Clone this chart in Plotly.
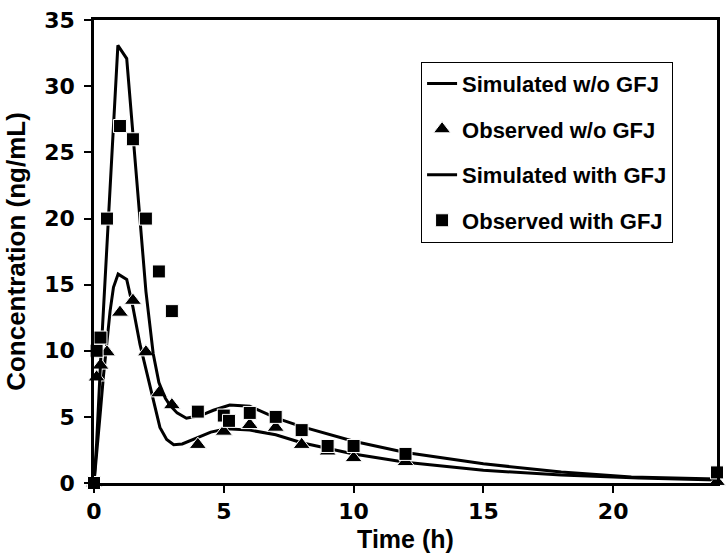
import plotly.graph_objects as go

# Simulated profiles
sim_t_wo = [0, 0.1, 0.25, 0.36, 0.5, 0.62, 0.75, 0.93, 1.26, 1.5, 1.77, 2.0, 2.15, 2.35, 2.54, 2.8, 3.07, 3.4, 3.95, 4.5, 5.1, 6.0, 7.0, 8.0, 10.0, 12.0, 15.0, 18.0, 21.0, 24.0]
sim_c_wo = [0, 2.0, 5.5, 8.0, 10.8, 13.0, 14.8, 15.8, 15.4, 13.3, 10.5, 8.6, 7.3, 5.6, 4.2, 3.3, 2.9, 2.95, 3.4, 3.85, 4.1, 4.0, 3.65, 3.05, 2.2, 1.57, 0.96, 0.6, 0.38, 0.22]

sim_t_gfj = [0, 0.1, 0.25, 0.5, 0.75, 0.92, 1.26, 1.5, 1.77, 2.0, 2.28, 2.5, 2.75, 2.92, 3.2, 3.56, 4.1, 4.6, 5.23, 6.0, 7.03, 8.0, 10.0, 12.0, 15.0, 18.0, 20.7, 24.0]
sim_c_gfj = [0, 3.0, 9.0, 18.0, 27.0, 33.1, 32.1, 26.5, 19.9, 14.5, 9.8, 7.6, 6.4, 5.9, 5.3, 4.9, 5.1, 5.5, 5.9, 5.8, 4.9, 4.26, 3.16, 2.3, 1.45, 0.83, 0.46, 0.3]

# Observed data
obs_t_wo = [0, 0.1, 0.25, 0.5, 1.0, 1.5, 2.0, 2.5, 3.0, 4.0, 5.0, 6.0, 7.0, 8.0, 9.0, 10.0, 12.0, 24.0]
obs_c_wo = [0, 8.0, 8.9, 9.9, 12.9, 13.8, 9.9, 6.8, 5.9, 2.9, 3.9, 4.4, 4.2, 2.9, 2.4, 1.9, 1.6, 0.1]

obs_t_gfj = [0, 0.1, 0.25, 0.5, 1.0, 1.5, 2.0, 2.5, 3.0, 4.0, 5.0, 5.2, 6.0, 7.0, 8.0, 9.0, 10.0, 12.0, 24.0]
obs_c_gfj = [0, 10.0, 11.0, 20.0, 27.0, 26.0, 20.0, 16.0, 13.0, 5.4, 5.1, 4.7, 5.3, 5.0, 4.0, 2.8, 2.8, 2.2, 0.8]

x_ticks = [0, 5, 10, 15, 20]
y_ticks = [0, 5, 10, 15, 20, 25, 30, 35]

fig = go.Figure()
fig.add_trace(go.Scatter(x=sim_t_wo, y=sim_c_wo, mode="lines", name="Simulated w/o GFJ",
                         line=dict(color="black", width=3), legendgroup="a"))
fig.add_trace(go.Scatter(x=obs_t_wo, y=obs_c_wo, mode="markers", name="Observed w/o GFJ",
                         marker=dict(symbol="triangle-up", size=15, color="black",
                                     line=dict(color="white", width=1)), legendgroup="b",
                         cliponaxis=False))
fig.add_trace(go.Scatter(x=sim_t_gfj, y=sim_c_gfj, mode="lines", name="Simulated with GFJ",
                         line=dict(color="black", width=3), legendgroup="c"))
fig.add_trace(go.Scatter(x=obs_t_gfj, y=obs_c_gfj, mode="markers", name="Observed with GFJ",
                         marker=dict(symbol="square", size=13, color="black",
                                     line=dict(color="white", width=1)), legendgroup="d",
                         cliponaxis=False))

tick_font = dict(family="DejaVu Sans, sans-serif", size=22, color="black", weight="bold")
axis_common = dict(showgrid=False, zeroline=False, showline=True, linecolor="black",
                   linewidth=2.5, mirror=True, ticks="outside", ticklen=7, tickwidth=1.5,
                   tickcolor="black", tickfont=tick_font, ticklabeloverflow="allow")

fig.update_layout(
    width=728, height=558,
    margin=dict(l=94, r=10, t=8, b=75),
    paper_bgcolor="white", plot_bgcolor="white",
    font=dict(family="Liberation Sans, Arial, sans-serif", color="black", weight="bold"),
    xaxis=dict(range=[0, 24], tickvals=x_ticks,
               title=dict(text="Time (h)", font=dict(size=25), standoff=8), **axis_common),
    yaxis=dict(range=[0, 35.02], tickvals=y_ticks, ticklabelstandoff=5,
               title=dict(text="Concentration (ng/mL)", font=dict(size=26), standoff=12), **axis_common),
    legend=dict(x=0.525, y=0.91, xanchor="left", yanchor="top",
                bgcolor="white", bordercolor="black", borderwidth=1,
                font=dict(size=22), traceorder="grouped", tracegroupgap=14),
    showlegend=True,
)

fig.write_html("out.html", config={"displayModeBar": False},
               post_script="document.body.style.margin='0px';")
